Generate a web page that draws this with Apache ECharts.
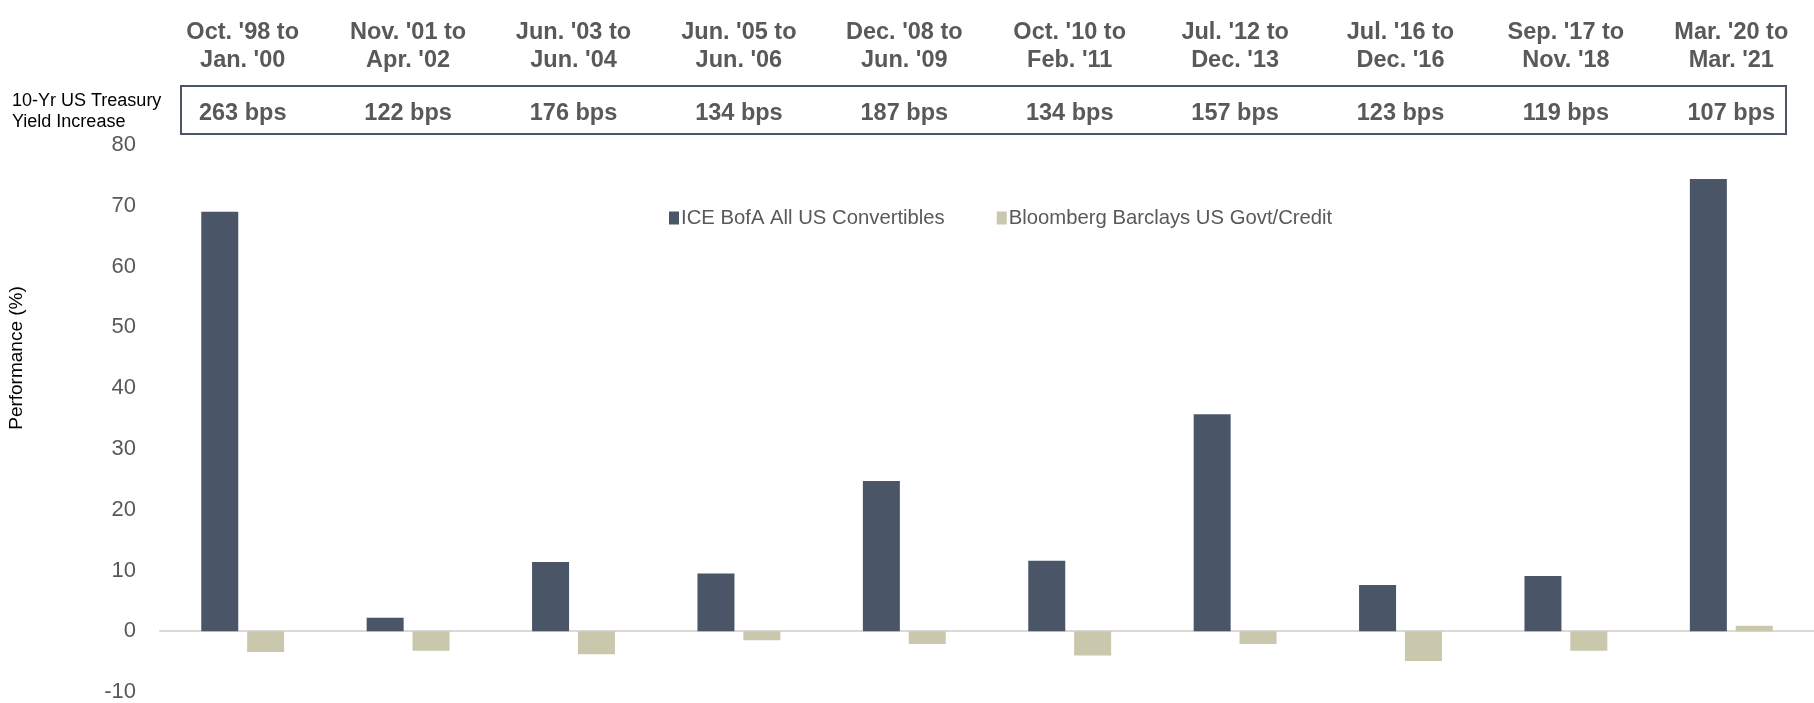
<!DOCTYPE html>
<html><head><meta charset="utf-8">
<script src="https://cdn.jsdelivr.net/npm/echarts@6/dist/echarts.min.js"></script>
<style>html,body{margin:0;padding:0;background:#fff}#c{width:1814px;height:703px}</style>
</head><body><div id="c"></div>
<script>
const periods = ["Oct. '98 to\nJan. '00","Nov. '01 to\nApr. '02","Jun. '03 to\nJun. '04","Jun. '05 to\nJun. '06","Dec. '08 to\nJun. '09","Oct. '10 to\nFeb. '11","Jul. '12 to\nDec. '13","Jul. '16 to\nDec. '16","Sep. '17 to\nNov. '18","Mar. '20 to\nMar. '21"];
const yieldIncrease = ["263 bps","122 bps","176 bps","134 bps","187 bps","134 bps","157 bps","123 bps","119 bps","107 bps"];
const convertibles = [69.0, 2.2, 11.4, 9.5, 24.7, 11.6, 35.7, 7.6, 9.1, 74.4];
const govtCredit = [-3.4, -3.2, -3.8, -1.5, -2.1, -4.0, -2.1, -4.9, -3.2, 0.9];
const yTicks = {min: -10, max: 80, interval: 10};

const chart = echarts.init(document.getElementById('c'));
const hdrFont = {fontFamily: 'Liberation Sans, Arial', fontWeight: 'bold', fontSize: 23.5, color: '#595959'};
chart.setOption({
  animation: false,
  grid: {left: 160, right: 0, top: 145, bottom: 10},
  legend: {
    left: 664, top: 203, itemGap: 52, itemWidth: 10, itemHeight: 13,
    icon: 'rect',
    textStyle: {fontFamily: 'Liberation Sans, Arial', fontSize: 20.3, color: '#595959', padding: [0,0,0,-3]},
    data: ['ICE BofA All US Convertibles', 'Bloomberg Barclays US Govt/Credit']
  },
  xAxis: [
    {type: 'category', data: periods, position: 'bottom',
     axisLine: {onZero: true, lineStyle: {color: '#d9d9d9', width: 2}},
     axisTick: {show: false}, axisLabel: {show: false}},
    {type: 'category', data: periods, position: 'top', offset: 68, gridIndex: 0,
     axisLine: {show: false}, axisTick: {show: false},
     axisLabel: Object.assign({margin: 2, lineHeight: 28, interval: 0}, hdrFont)},
    {type: 'category', data: yieldIncrease, position: 'top', offset: 17, gridIndex: 0,
     axisLine: {show: false}, axisTick: {show: false},
     axisLabel: Object.assign({margin: 2, interval: 0}, hdrFont)}
  ],
  yAxis: {
    type: 'value', min: yTicks.min, max: yTicks.max, interval: yTicks.interval,
    splitLine: {show: false}, axisLine: {show: false}, axisTick: {show: false},
    axisLabel: {margin: 24, fontFamily: 'Liberation Sans, Arial', fontSize: 22, color: '#595959'}
  },
  series: [
    {name: 'ICE BofA All US Convertibles', type: 'bar', data: convertibles, barWidth: 37, barGap: '24%',
     itemStyle: {color: '#4a5668'}},
    {name: 'Bloomberg Barclays US Govt/Credit', type: 'bar', data: govtCredit, barWidth: 37,
     itemStyle: {color: '#c9c8ad'}}
  ],
  graphic: [
    {type: 'rect', shape: {x: 181, y: 86, width: 1605, height: 48},
     style: {fill: 'none', stroke: '#4a5668', lineWidth: 2}},
    {type: 'text', left: 12, top: 91,
     style: {text: '10-Yr US Treasury\nYield Increase', fontFamily: 'Liberation Sans, Arial', fontSize: 18, lineHeight: 21, fill: '#000'}},
    {type: 'text', x: 17, y: 358, rotation: Math.PI / 2,
     style: {text: 'Performance (%)', fontFamily: 'Liberation Sans, Arial', fontSize: 19, fill: '#000', align: 'center', verticalAlign: 'middle'}}
  ]
});
</script></body></html>
